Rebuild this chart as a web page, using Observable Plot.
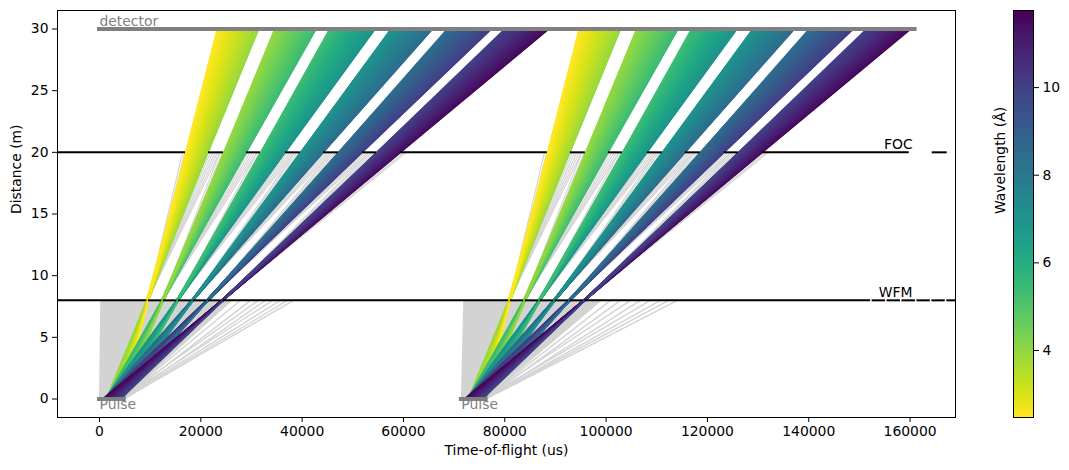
<!DOCTYPE html>
<html><head><meta charset="utf-8">
<script src="https://cdn.jsdelivr.net/npm/d3@7"></script>
<script src="https://cdn.jsdelivr.net/npm/@observablehq/plot@0.6"></script>
<style>
body{margin:0;background:#fff;}
#wrap{position:relative;width:1069px;height:470px;}
#wrap svg{position:absolute;top:0;overflow:visible;}
</style></head><body><div id="wrap"></div>
<script>
// ---------- values (time in µs, distance in m) ----------
const pulseStarts = [0, 71429];
const pulseLength = 4900;
const detectorDistance = 30;
const detectorEnd = 161000;
const chopperNames = ["WFM", "FOC"];
const chopperDistances = [8, 20];
const chopperPeriod = 71429;
// opening windows of each chopper, relative to the pulse start
const wfmOpen  = [9350, 12300, 15250, 18200, 21150, 24100];
const wfmClose = [9650, 12600, 15550, 18500, 21450, 24400];
const focOpen  = [16980, 24480, 31780, 39680, 47180, 54680];
const focClose = [21520, 29020, 36720, 44220, 51920, 59420];
// light-grey fan of neutrons stopped at the WFM chopper (arrival at 8 m)
const fanStartAt8m = [250, 480];
const fanDenseEndAt8m = [26500, 28000];
// sparse slow stragglers stopped at the WFM chopper
const strayStart = [[4300, 4600, 3900, 4800, 4100, 4500, 4700, 4850],
                    [4400, 4700, 4000, 4800, 4200, 4600, 4750, 4850]];
const strayEnd   = [[27830, 29810, 31390, 32770, 34150, 35730, 37110, 38300],
                    [29440, 31410, 33390, 35360, 37340, 39310, 40890, 42670]];
const wavelengthDomain = [2.47, 11.76];
const xDomain = [-8290, 168970];
const yDomain = [-1.5, 31.5];
const xTicks = [0, 20000, 40000, 60000, 80000, 100000, 120000, 140000, 160000];
const yTicks = [0, 5, 10, 15, 20, 25, 30];
const colorTicks = [4, 6, 8, 10];
const labelX = 160500;

// ---------- neutron paths derived from the chopper timings ----------
const K = 252.78; // µs per metre per Å
const nT0 = 48;
const passRays = [], stopRays = [];
pulseStarts.forEach((P) => {
  wfmOpen.forEach((o, k) => {
    const c = wfmClose[k];
    [P + o, P + (o + c) / 2, P + c].forEach((t8, j) => {
      for (let i = 0; i <= nT0; i++) {
        const t0 = P + pulseLength * i / nT0;
        const lambda = (t8 - t0) / (K * 8);
        const t20 = t0 + K * lambda * 20;
        if (t20 >= P + focOpen[k] && t20 <= P + focClose[k]) {
          passRays.push({t0, d0: 0, t1: t0 + K * lambda * detectorDistance, d1: detectorDistance, lambda, band: k});
        } else if (j === 1 && i % 3 === 0) {
          stopRays.push({t0, d0: 0, t1: t20, d1: 20});
        }
      }
    });
  });
});
passRays.sort((a, b) => a.band - b.band);

const fanRows = pulseStarts.flatMap((P, p) => [
  {pulse: p, d: 0, a: P, b: P + pulseLength},
  {pulse: p, d: 8, a: P + fanStartAt8m[p], b: P + fanDenseEndAt8m[p]}
]);
const strays = pulseStarts.flatMap((P, p) =>
  strayStart[p].map((s, i) => ({t0: P + s, d0: 0, t1: P + strayEnd[p][i], d1: 8})));

function segments(opens, closes) {
  const gaps = [];
  for (let p = -1; p <= 3; p++) opens.forEach((o, k) => gaps.push([p * chopperPeriod + o, p * chopperPeriod + closes[k]]));
  gaps.sort((a, b) => a[0] - b[0]);
  const segs = []; let cur = xDomain[0];
  for (const [a, b] of gaps) {
    if (b <= cur) continue;
    if (a > cur) segs.push([cur, Math.min(a, xDomain[1])]);
    cur = Math.max(cur, b);
    if (cur >= xDomain[1]) break;
  }
  if (cur < xDomain[1]) segs.push([cur, xDomain[1]]);
  return segs.filter(s => s[1] > s[0]);
}
const chopperSegs = [
  ...segments(wfmOpen, wfmClose).map(s => ({d: chopperDistances[0], a: s[0], b: s[1]})),
  ...segments(focOpen, focClose).map(s => ({d: chopperDistances[1], a: s[0], b: s[1]}))
];
const bars = [
  {d: detectorDistance, a: 0, b: detectorEnd},
  ...pulseStarts.map(P => ({d: 0, a: P, b: P + pulseLength}))
];
const chopperLabels = chopperNames.map((n, i) => ({t: labelX, d: chopperDistances[i], n}));

const font = {fontFamily: "DejaVu Sans, sans-serif", fontSize: "13.9px", background: "white"};
const colorScale = {type: "linear", domain: wavelengthDomain, scheme: "viridis", reverse: true};

const main = Plot.plot({
  width: 1069, height: 470,
  marginLeft: 57, marginRight: 114, marginTop: 10, marginBottom: 53,
  style: font,
  x: {domain: xDomain, ticks: xTicks, tickFormat: d3.format("d"), tickSize: 5, tickPadding: 4, label: null},
  y: {domain: yDomain, ticks: yTicks, tickSize: 5, tickPadding: 4, label: null},
  color: colorScale,
  marks: [
    Plot.areaX(fanRows, {y: "d", x1: "a", x2: "b", z: "pulse", fill: "lightgray"}),
    Plot.link(strays, {x1: "t0", y1: "d0", x2: "t1", y2: "d1", stroke: "lightgray", strokeWidth: 1.4}),
    Plot.link(stopRays, {x1: "t0", y1: "d0", x2: "t1", y2: "d1", stroke: "lightgray", strokeWidth: 1.1}),
    Plot.link(passRays, {x1: "t0", y1: "d0", x2: "t1", y2: "d1", stroke: "lambda", strokeWidth: 1.4}),
    Plot.ruleY(chopperSegs, {y: "d", x1: "a", x2: "b", stroke: "black", strokeWidth: 2}),
    Plot.ruleY(bars, {y: "d", x1: "a", x2: "b", stroke: "gray", strokeWidth: 4, strokeLinecap: "square"}),
    Plot.text([{t: 0, d: detectorDistance}], {x: "t", y: "d", text: () => "detector", textAnchor: "start", lineAnchor: "bottom", dy: -3.5, fill: "gray"}),
    Plot.text(pulseStarts.map(P => ({t: P, d: 0})), {x: "t", y: "d", text: () => "Pulse", textAnchor: "start", lineAnchor: "top", fill: "gray"}),
    Plot.text(chopperLabels, {x: "t", y: "d", text: "n", textAnchor: "end", lineAnchor: "bottom", dy: -3, fill: "black"}),
    Plot.frame({stroke: "black", strokeWidth: 1}),
    Plot.text(["Time-of-flight (us)"], {frameAnchor: "bottom", dy: 37, fill: "black"}),
    Plot.text(["Distance (m)"], {frameAnchor: "left", rotate: -90, dx: -41, fill: "black"})
  ]
});
main.style.left = "0px";

const cbar = Plot.plot({
  width: 89, height: 470,
  marginLeft: 33, marginRight: 36, marginTop: 10, marginBottom: 53,
  style: {...font, background: "transparent"},
  x: {domain: [0, 1], axis: null},
  y: {domain: wavelengthDomain, axis: "right", ticks: colorTicks, tickSize: 5, tickPadding: 4, label: null},
  color: colorScale,
  marks: [
    Plot.raster({x1: 0, x2: 1, y1: wavelengthDomain[0], y2: wavelengthDomain[1], width: 1, height: 400, fill: (x, y) => y, imageRendering: "auto"}),
    Plot.frame({stroke: "black", strokeWidth: 1}),
    Plot.text(["Wavelength (Å)"], {frameAnchor: "left", rotate: -90, dx: -13, fill: "black"})
  ]
});
cbar.style.left = "980px";

const wrap = document.getElementById("wrap");
wrap.appendChild(main);
wrap.appendChild(cbar);
</script>
</body></html>
